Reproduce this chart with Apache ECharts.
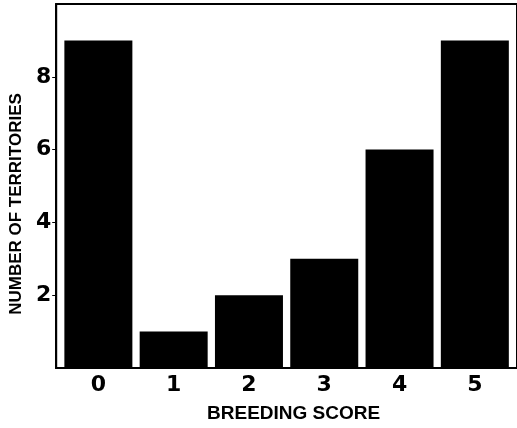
<!DOCTYPE html>
<html>
<head>
<meta charset="utf-8">
<script src="https://cdn.jsdelivr.net/npm/echarts@6/dist/echarts.min.js"></script>
<style>
  html, body { margin: 0; padding: 0; background: #fff; }
  #chart { width: 517px; height: 428px; }
</style>
</head>
<body>
<div id="chart"></div>
<script>
// breeding score categories and number of territories for each
const scores = [0, 1, 2, 3, 4, 5]
const territories = [9, 1, 2, 3, 6, 9]
const yTicks = [2, 4, 6, 8]

const chart = echarts.init(document.getElementById('chart'))
chart.setOption({
  animation: false,
  grid: {
    left: 55,
    right: -2,
    top: 4,
    bottom: 57,
    show: true,
    borderColor: '#000',
    borderWidth: 2
  },
  xAxis: {
    type: 'value',
    min: -0.56,
    max: 5.56,
    name: 'BREEDING SCORE',
    nameLocation: 'middle',
    nameGap: 36,
    nameTextStyle: {
      color: '#000',
      fontFamily: 'Liberation Sans',
      fontWeight: 'bold',
      fontSize: 19,
      padding: [0, 0, 0, 14]
    },
    splitLine: { show: false },
    axisLine: { show: true, onZero: false, lineStyle: { color: '#000', width: 2 } },
    axisTick: { show: false },
    axisLabel: {
      customValues: scores,
      margin: 6,
      color: '#000',
      fontFamily: 'DejaVu Sans',
      fontWeight: 'bold',
      fontSize: 22
    }
  },
  yAxis: {
    type: 'value',
    min: 0,
    max: 10,
    interval: 2,
    name: 'NUMBER OF TERRITORIES',
    nameLocation: 'middle',
    nameGap: 31,
    nameTextStyle: {
      color: '#000',
      fontFamily: 'Liberation Sans',
      fontWeight: 'bold',
      fontSize: 17,
      padding: [0, 36, 0, 0]
    },
    splitLine: { show: false },
    axisLine: { show: true, onZero: false, lineStyle: { color: '#000', width: 2 } },
    axisTick: { show: true, customValues: yTicks, length: 4, lineStyle: { color: '#000', width: 1 } },
    axisLabel: {
      customValues: yTicks,
      margin: 5,
      color: '#000',
      fontFamily: 'DejaVu Sans',
      fontWeight: 'bold',
      fontSize: 22
    }
  },
  series: [
    {
      type: 'bar',
      barWidth: 68,
      itemStyle: { color: '#000' },
      data: scores.map((s, i) => [s, territories[i]])
    }
  ]
})
</script>
</body>
</html>
